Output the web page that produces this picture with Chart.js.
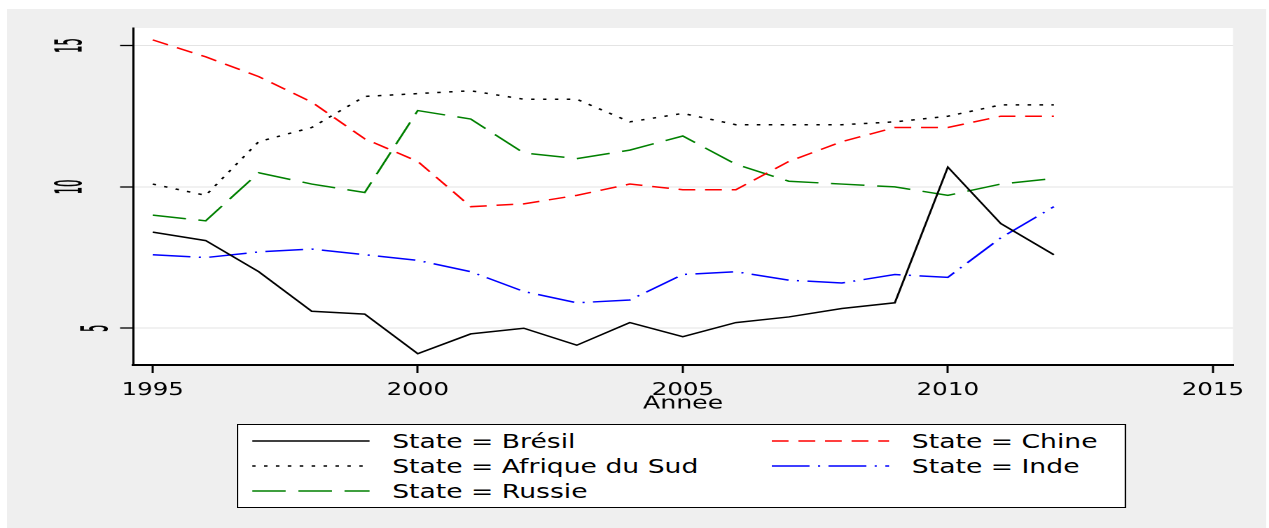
<!DOCTYPE html>
<html>
<head>
<meta charset="utf-8">
<script src="https://cdn.jsdelivr.net/npm/chart.js@4.4.1/dist/chart.umd.min.js"></script>
<style>
  html, body { margin: 0; padding: 0; background: #fff; overflow: hidden; }
  /* the reference is a horizontally stretched Stata export, so draw at 906px and stretch */
  #stage { position: absolute; left: 0; top: 0; width: 906px; height: 528px;
           transform: scaleX(1.4007); transform-origin: 0 0; }
  #chart { position: absolute; left: 0; top: 0; }
  #legend { position: absolute; left: 169px; top: 424px; width: 635px; height: 84px;
            box-sizing: border-box; border: 1px solid #000; background: #fff;
            font-family: "DejaVu Sans", sans-serif; font-size: 19px; color: #000; }
  .item { position: absolute; height: 24px; line-height: 24px; white-space: nowrap; }
  .item svg { position: absolute; left: 0; top: 0; }
  .item span { position: absolute; left: 100px; top: 0; }
</style>
</head>
<body>
<div id="stage">
  <canvas id="chart" width="906" height="528"></canvas>
  <div id="legend"></div>
</div>
<script>
const YEARS = [1995, 1996, 1997, 1998, 1999, 2000, 2001, 2002, 2003, 2004, 2005, 2006, 2007, 2008, 2009, 2010, 2011, 2012];
const BRESIL = [8.4, 8.1, 7.0, 5.6, 5.5, 4.1, 4.8, 5.0, 4.4, 5.2, 4.7, 5.2, 5.4, 5.7, 5.9, 10.7, 8.7, 7.6];
const CHINE = [15.2, 14.6, 13.9, 13.0, 11.7, 10.9, 9.3, 9.4, 9.7, 10.1, 9.9, 9.9, 10.9, 11.6, 12.1, 12.1, 12.5, 12.5];
const AFRIQUE_DU_SUD = [10.1, 9.7, 11.6, 12.1, 13.2, 13.3, 13.4, 13.1, 13.1, 12.3, 12.6, 12.2, 12.2, 12.2, 12.3, 12.5, 12.9, 12.9];
const INDE = [7.6, 7.5, 7.7, 7.8, 7.6, 7.4, 7.0, 6.3, 5.9, 6.0, 6.9, 7.0, 6.7, 6.6, 6.9, 6.8, 8.2, 9.3];
const RUSSIE = [9.0, 8.8, 10.5, 10.1, 9.8, 12.7, 12.4, 11.2, 11.0, 11.3, 11.8, 10.8, 10.2, 10.1, 10.0, 9.7, 10.1, 10.3];

const LABELS = ["State = Brésil", "State = Chine", "State = Afrique du Sud", "State = Inde", "State = Russie"];
const X_TICKS = [1995, 2000, 2005, 2010, 2015];
const Y_TICKS = [5, 10, 15];
const X_TITLE = "Annee";

const SERIES = [BRESIL, CHINE, AFRIQUE_DU_SUD, INDE, RUSSIE];
const STYLES = [
  { color: "#000000", dash: [] },
  { color: "#ff0000", dash: [12, 7] },
  { color: "#000000", dash: [2.5, 6] },
  { color: "#0000ff", dash: [27, 6, 1.5, 6] },
  { color: "#008000", dash: [24, 9] },
];

const FONT = "DejaVu Sans";

// gray graph region + white plot region
const backdrop = {
  id: "backdrop",
  beforeDraw(chart) {
    const { ctx, chartArea: a } = chart;
    ctx.save();
    ctx.fillStyle = "#ffffff";
    ctx.fillRect(0, 0, chart.width, chart.height);
    ctx.fillStyle = "#efefef";
    ctx.fillRect(5, 9, 899, chart.height - 9);
    ctx.fillStyle = "#ffffff";
    ctx.fillRect(a.left, a.top, a.right - a.left, a.bottom - a.top);
    ctx.restore();
  },
};

// vertical, condensed y labels like the Stata output
const yLabels = {
  id: "yLabels",
  afterDraw(chart) {
    const { ctx } = chart;
    const scale = chart.scales.y;
    const size = 23;
    ctx.save();
    ctx.fillStyle = "#000";
    ctx.strokeStyle = "#000";
    ctx.lineWidth = 0.5;
    ctx.font = `${size}px "${FONT}"`;
    ctx.textAlign = "center";
    ctx.textBaseline = "middle";
    scale.ticks.forEach((t) => {
      const label = String(t.value);
      const py = scale.getPixelForValue(t.value);
      const cx = scale.right - 8.3 - 18.5 * label.length + 0.068 * size;
      ctx.save();
      ctx.translate(cx, py);
      ctx.rotate(-Math.PI / 2);
      ctx.scale(0.5, 1.12);
      ctx.fillText(label, 0, 0);
      ctx.strokeText(label, 0, 0);
      ctx.restore();
    });
    ctx.restore();
  },
};

const datasets = SERIES.map((vals, i) => ({
  label: LABELS[i],
  data: YEARS.map((x, j) => ({ x, y: vals[j] })),
  borderColor: STYLES[i].color,
  borderDash: STYLES[i].dash,
  borderWidth: 1.5,
  pointRadius: 0,
  fill: false,
  tension: 0,
}));

new Chart(document.getElementById("chart"), {
  type: "line",
  data: { datasets },
  options: {
    responsive: false,
    animation: false,
    devicePixelRatio: 2,
    layout: { padding: { left: 0, top: 28, right: 25.7, bottom: 113.5 } },
    plugins: { legend: { display: false }, tooltip: { enabled: false } },
    scales: {
      x: {
        type: "linear",
        min: 1994.63,
        max: 2015.38,
        afterBuildTicks: (s) => { s.ticks = X_TICKS.map((v) => ({ value: v })); },
        afterFit: (s) => { s.height = 49.5; },
        ticks: {
          color: "#000",
          font: { family: FONT, size: 17.5 },
          padding: 7,
          maxRotation: 0,
          autoSkip: false,
          callback: (v) => String(v),
        },
        grid: { drawOnChartArea: false, tickLength: 8, tickColor: "#000", tickWidth: 1.5 },
        border: { color: "#000", width: 2 },
        title: { display: true, text: X_TITLE, color: "#000", font: { family: FONT, size: 18 }, padding: 0 },
      },
      y: {
        min: 3.70,
        max: 15.62,
        afterBuildTicks: (s) => { s.ticks = Y_TICKS.map((v) => ({ value: v })); },
        afterFit: (s) => { s.width = 95; },
        ticks: { display: false },
        grid: { color: "#e4e4e4", lineWidth: 1, tickLength: 9.3, tickColor: "#000", tickWidth: 1.3 },
        border: { color: "#000", width: 1.5 },
      },
    },
  },
  plugins: [backdrop, yLabels],
});

// legend: two columns, row-major like Stata
function buildLegend() {
  const box = document.getElementById("legend");
  const colX = [10, 381];
  const rowY = [16, 41, 65.5];
  LABELS.forEach((label, i) => {
    const st = STYLES[i];
    const item = document.createElement("div");
    item.className = "item";
    item.style.left = `${colX[i % 2]}px`;
    item.style.top = `${rowY[Math.floor(i / 2)] - 12}px`;
    const dash = st.dash.length ? st.dash.join(" ") : "none";
    item.innerHTML =
      `<svg width="84" height="24"><line x1="0" y1="12" x2="84" y2="12" stroke="${st.color}" ` +
      `stroke-width="1.5" stroke-dasharray="${dash}"/></svg><span>${label}</span>`;
    box.appendChild(item);
  });
}
buildLegend();
</script>
</body>
</html>
